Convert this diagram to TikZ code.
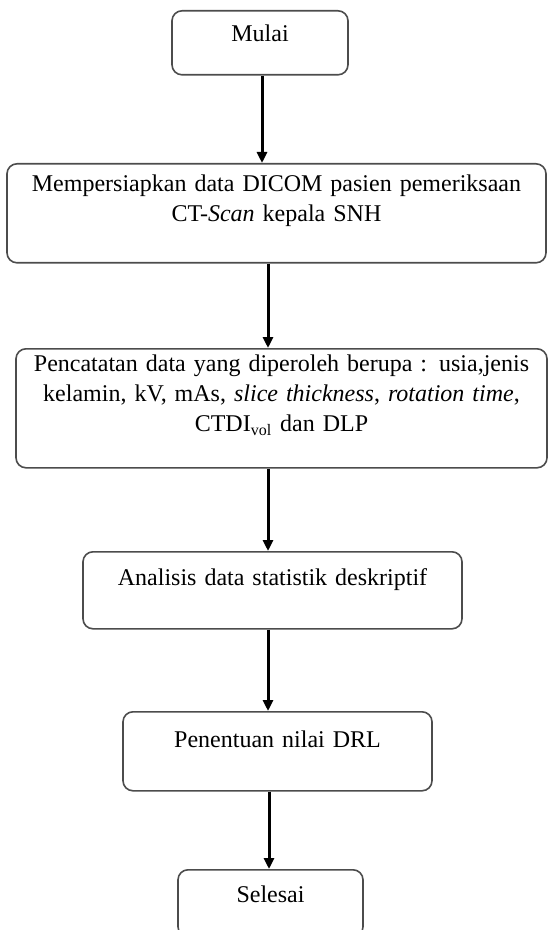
\documentclass[tikz,border=0pt]{standalone}
\usepackage{fontspec}
\setmainfont{Liberation Serif}
\usetikzlibrary{arrows.meta}

\begin{document}
\begin{tikzpicture}[
      x = .5pt, y = -.5pt,
      box/.style = {
        draw = black!70, line width = .8pt, rounded corners = 5pt,
        anchor = north, inner xsep = 0pt, inner ysep = 0pt,
        align = center, font = \fontsize{12}{15}\selectfont},
      arr/.style = {line width = 1.5pt, -{Triangle[length = 5.5pt, width = 5pt]}}
      ]
    \useasboundingbox (0,0) rectangle (548,930);

    \node[box, text width = 88pt, text height = 15.5pt, text depth = 16.5pt]
      (mulai) at (260,10) {Mulai}; % 0
    \node[box, text width = 269.5pt, text height = 14pt, text depth = 35.5pt]
      (siapkan) at (276.5,163)
      {Mempersiapkan data DICOM pasien pemeriksaan\\
       CT-\textit{Scan} kepala SNH}; % 1
    \node[box, text width = 265.5pt, text height = 11.5pt, text depth = 48pt]
      (catat) at (281.5,348)
      {Pencatatan data yang diperoleh berupa : usia,jenis\\
       kelamin, kV, mAs, \textit{slice thickness}, \textit{rotation time},\\
       CTDI\textsubscript{vol} dan DLP}; % 2
    \node[box, text width = 189.5pt, text height = 17pt, text depth = 21.5pt]
      (analisis) at (272.5,551) {Analisis data statistik deskriptif}; % 3
    \node[box, text width = 154.5pt, text height = 18pt, text depth = 21.5pt]
      (drl) at (277.5,711) {Penentuan nilai DRL}; % 4
    \node[box, text width = 92.5pt, text height = 16.5pt, text depth = 17pt]
      (selesai) at (270.5,869) {Selesai}; % 5

    \draw[arr] ([xshift = 1pt]mulai.south) -- ([xshift = 1pt]mulai.south |- siapkan.north);
    \draw[arr] ([xshift = -4.25pt]siapkan.south) -- ([xshift = -4.25pt]siapkan.south |- catat.north);
    \draw[arr] ([xshift = -6.75pt]catat.south) -- ([xshift = -6.75pt]catat.south |- analisis.north);
    \draw[arr] ([xshift = -2.25pt]analisis.south) -- ([xshift = -2.25pt]analisis.south |- drl.north);
    \draw[arr] ([xshift = -4.25pt]drl.south) -- ([xshift = -4.25pt]drl.south |- selesai.north);
  \end{tikzpicture}
\end{document}
